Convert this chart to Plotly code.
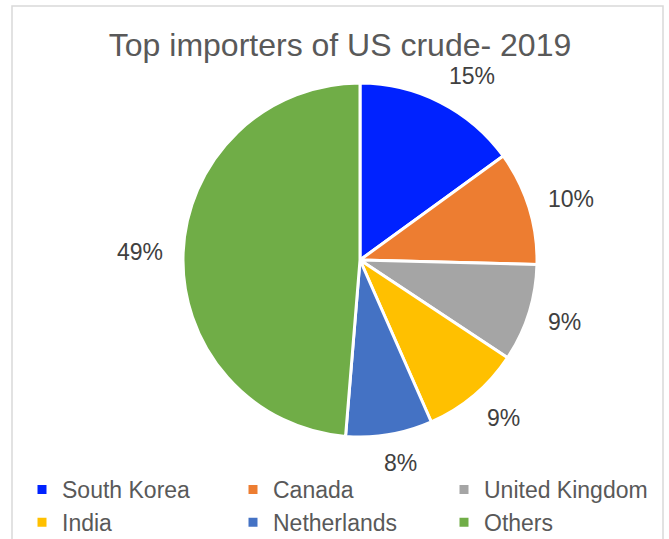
import math
import plotly.graph_objects as go

# Share of US crude exports by destination, 2019 (percent)
countries = ["South Korea", "Canada", "United Kingdom", "India", "Netherlands", "Others"]
shares = [15.0, 10.4, 8.9, 9.1, 7.9, 48.7]
colors = ["#0022FF", "#ED7D31", "#A5A5A5", "#FFC000", "#4472C4", "#70AD47"]

W, H = 669, 539
CX, CY, R = 360, 260, 177          # pie centre and radius in pixels
LABEL_GAP = 20                     # gap between the rim and the inner edge of a label
LABEL_SIZE = 23
FONT = "Liberation Sans, Arial"

fig = go.Figure(
    go.Pie(
        labels=countries,
        values=shares,
        marker=dict(colors=colors, line=dict(color="white", width=3)),
        sort=False,
        direction="clockwise",
        rotation=0,
        textinfo="none",
        hoverinfo="label+percent",
        domain=dict(x=[(CX - R) / W, (CX + R) / W], y=[1 - (CY + R) / H, 1 - (CY - R) / H]),
    )
)

# percentage labels outside each slice: the label box sits just beyond the rim,
# pushed outward along the slice's mid angle
total = sum(shares)
annotations = []
cum = 0.0
for v in shares:
    mid = (cum + v / 2) / total * 2 * math.pi
    cum += v
    text = f"{round(v / total * 100)}%"
    digits = len(text) - 1
    w = LABEL_SIZE * (0.556 * digits + 0.889)
    h = LABEL_SIZE * 0.8
    s, c = math.sin(mid), math.cos(mid)
    px = CX + (R + LABEL_GAP) * s + (w / 2) * math.copysign(min(1.0, 3 * abs(s)), s)
    py = CY - (R + LABEL_GAP) * c - (h / 2) * c
    annotations.append(
        dict(
            x=px / W, y=1 - py / H, xref="paper", yref="paper",
            text=text, showarrow=False,
            font=dict(family=FONT, size=LABEL_SIZE, color="#404040"),
            xanchor="center", yanchor="middle",
        )
    )

fig.update_layout(
    width=W, height=H,
    margin=dict(l=0, r=0, t=0, b=0, autoexpand=False),
    paper_bgcolor="white",
    plot_bgcolor="white",
    title=dict(
        text="Top importers of US crude- 2019",
        x=340 / W, xanchor="center", y=1 - 45 / H, yanchor="middle",
        font=dict(family=FONT, size=32, color="#595959"),
    ),
    showlegend=True,
    legend=dict(
        orientation="h",
        x=22 / W, xanchor="left",
        y=1 - 468 / H, yanchor="top",
        entrywidth=166, entrywidthmode="pixels",
        font=dict(family=FONT, size=23, color="#595959"),
        tracegroupgap=0,
        itemwidth=30,
    ),
    annotations=annotations,
    shapes=[
        dict(
            type="rect", xref="paper", yref="paper",
            x0=12 / W, x1=663 / W, y0=-0.05, y1=1 - 6 / H,
            line=dict(color="#D9D9D9", width=1.5), fillcolor="rgba(0,0,0,0)",
            layer="below",
        )
    ],
)

fig.write_html("out.html")
